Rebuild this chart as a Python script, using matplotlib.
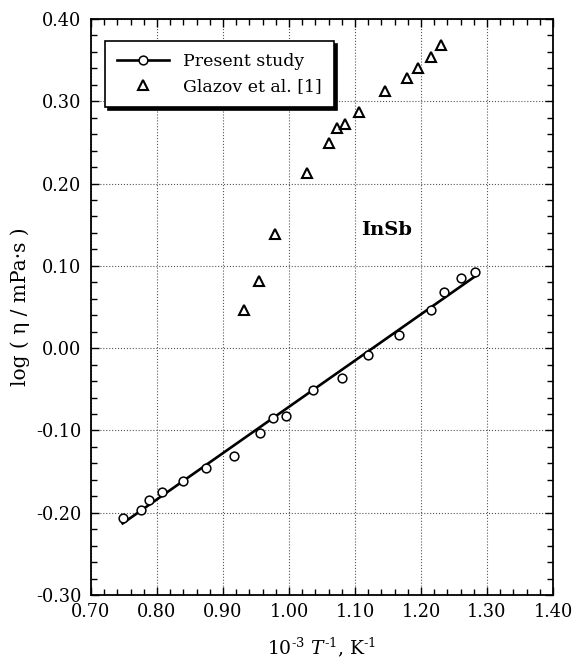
import matplotlib
matplotlib.use("Agg")
import matplotlib.pyplot as plt
from matplotlib.lines import Line2D
from matplotlib.ticker import MultipleLocator, FormatStrFormatter

plt.rcParams['font.family'] = ['DejaVu Serif']
plt.rcParams['mathtext.fontset'] = 'dejavuserif'
plt.rcParams['axes.unicode_minus'] = False

# present study (open circles)
present_x = [0.748, 0.776, 0.788, 0.807, 0.840, 0.875, 0.916, 0.956, 0.975,
             0.996, 1.036, 1.081, 1.120, 1.166, 1.215, 1.235, 1.261, 1.282]
present_y = [-0.207, -0.197, -0.184, -0.175, -0.161, -0.146, -0.131, -0.103, -0.085,
             -0.083, -0.051, -0.036, -0.008, 0.016, 0.046, 0.068, 0.085, 0.093]

# fitted line through present study
fit_x = [0.748, 1.285]
fit_y = [-0.213, 0.089]

# Glazov et al. [1] (open triangles)
glazov_x = [0.932, 0.955, 0.979, 1.028, 1.061, 1.072, 1.085, 1.106,
            1.145, 1.179, 1.195, 1.215, 1.231]
glazov_y = [0.046, 0.082, 0.139, 0.213, 0.249, 0.267, 0.272, 0.287,
            0.312, 0.328, 0.340, 0.354, 0.368]

fig = plt.figure(figsize=(5.74, 6.60), dpi=100)
ax = fig.add_axes([0.1585, 0.0985, 0.805, 0.8727])

ax.plot(fit_x, fit_y, color='k', lw=1.9, zorder=3)
ax.plot(present_x, present_y, 'o', ms=6.3, mfc='white', mec='k', mew=1.1, zorder=4)
ax.plot(glazov_x, glazov_y, '^', ms=6.5, mfc='white', mec='k', mew=1.5, ls='none', zorder=4)

ax.set_xlim(0.70, 1.40)
ax.set_ylim(-0.30, 0.40)
ax.xaxis.set_major_locator(MultipleLocator(0.10))
ax.xaxis.set_minor_locator(MultipleLocator(0.02))
ax.yaxis.set_major_locator(MultipleLocator(0.10))
ax.yaxis.set_minor_locator(MultipleLocator(0.02))
ax.xaxis.set_major_formatter(FormatStrFormatter('%.2f'))
ax.yaxis.set_major_formatter(FormatStrFormatter('%.2f'))
ax.tick_params(which='both', direction='in', top=True, right=True, labelsize=12.8, width=1.0)
ax.tick_params(which='major', length=6)
ax.tick_params(which='minor', length=4)
ax.tick_params(axis='x', pad=6)
ax.tick_params(axis='y', pad=7)
ax.grid(True, which='major', ls=':', color='#555555', lw=0.8)
for s in ax.spines.values():
    s.set_linewidth(1.3)

ax.set_xlabel('10$^{\\mathrm{\u20103}}$ $T^{\\mathrm{\u20101}}$, K$^{\\mathrm{\u20101}}$',
              fontsize=13.5, labelpad=10)
ax.set_ylabel('log ( η / mPa·s )', fontsize=14.5, labelpad=4)

ax.text(1.148, 0.143, 'InSb', fontsize=14, fontweight='bold', ha='center', va='center')

h1 = Line2D([], [], color='k', lw=1.9, marker='o', ms=6.3, mfc='white', mec='k', mew=1.1)
h2 = Line2D([], [], ls='none', marker='^', ms=6.5, mfc='white', mec='k', mew=1.5)
leg = ax.legend([h1, h2], ['Present study', 'Glazov et al. [1]'], loc='upper left',
                bbox_to_anchor=(0.03, 0.962), borderaxespad=0, fontsize=12.5,
                fancybox=False, framealpha=1, edgecolor='k', handlelength=3.0,
                numpoints=1, shadow={'color': 'k', 'alpha': 1}, labelspacing=0.45,
                borderpad=0.7)
leg.get_frame().set_linewidth(1.2)

fig.savefig('out.png', dpi=100)
